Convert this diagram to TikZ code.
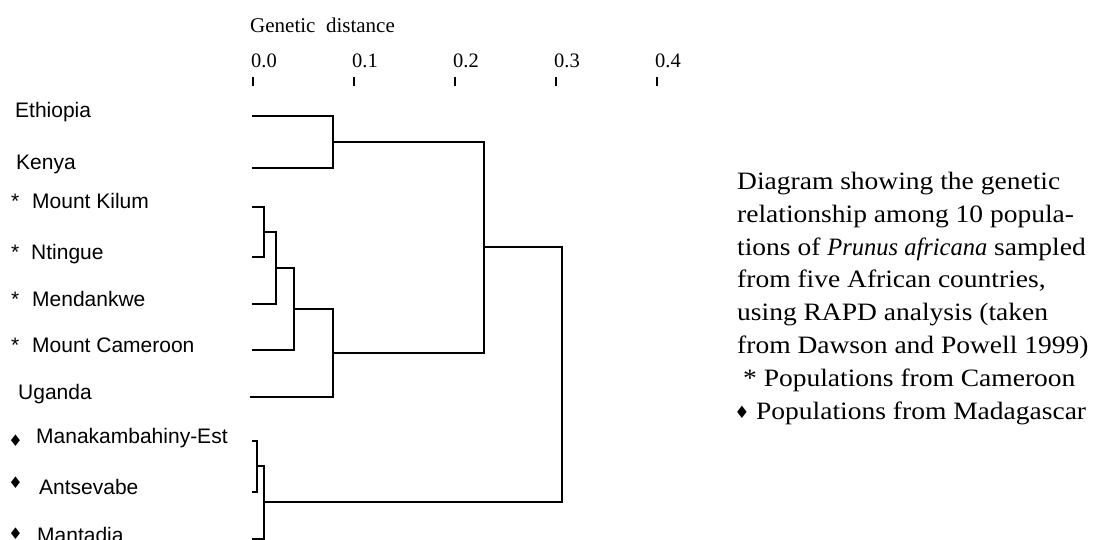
\documentclass[tikz,border=0pt]{standalone}
\usepackage{fontspec}
\setmainfont{Liberation Serif}
\newfontfamily\labfont{Liberation Sans}
\newfontfamily\capfont[FakeStretch=1.1]{Liberation Serif}
\newfontfamily\capitfont[FakeStretch=0.98]{Liberation Serif}
\newfontfamily\dejafont{DejaVu Sans}
\begin{document}
\begin{tikzpicture}[x=1pt,y=-1pt,
  branch/.style={line width=2.6pt, line cap=rect},
  tickmark/.style={line width=1.9pt},
  leaflabel/.style={anchor=base west, inner sep=0pt, font=\labfont\fontsize{21}{24}\selectfont},
  axlabel/.style={anchor=base west, inner sep=0pt, font=\fontsize{20.5}{24}\selectfont},
  capline/.style={anchor=base west, inner sep=0pt, font=\capfont\fontsize{25}{30}\selectfont},
  leftdia/.style={anchor=center, inner sep=0pt, font=\dejafont\fontsize{16}{18}\selectfont}
]
\useasboundingbox (0,0) rectangle (1106,540);
\fill[white] (0,0) rectangle (1106,540);

% axis
\node[axlabel, font=\fontsize{21}{24}\selectfont] (title) at (250,33) {Genetic\ \ distance};
\foreach \i/\x/\t in {0/253/0.0,1/354/0.1,2/455/0.2,3/556/0.3,4/657/0.4}{
  \node[axlabel] (tl\i) at (\x-2,68) {\t};
  \coordinate (ta\i) at (\x,77);
  \coordinate (tb\i) at (\x,86);
  \draw[tickmark] (ta\i) -- (tb\i);
}

% leaves
\coordinate (lE)  at (253,116);
\coordinate (lK)  at (253,168);
\coordinate (lMK) at (253,207);
\coordinate (lNt) at (253,257);
\coordinate (lMe) at (253,304);
\coordinate (lMC) at (253,350);
\coordinate (lUg) at (251,397);
\coordinate (lMa) at (253,441);
\coordinate (lAn) at (253,492);
\coordinate (lMt) at (253,539);

% joins
\coordinate (jEK) at (333,142);
\coordinate (j1)  at (264,232);
\coordinate (j2)  at (276,268);
\coordinate (j3)  at (294,309);
\coordinate (j4)  at (333,353);
\coordinate (j5)  at (484,247);
\coordinate (j6)  at (257,466);
\coordinate (j7)  at (264,502);
\coordinate (j8)  at (562,375);

\draw[branch] (lE) -| (jEK) |- (lK);
\draw[branch] (lMK) -| (j1) |- (lNt);
\draw[branch] (j1) -| (j2) |- (lMe);
\draw[branch] (j2) -| (j3) |- (lMC);
\draw[branch] (j3) -| (j4) |- (lUg);
\draw[branch] (jEK) -| (j5) |- (j4);
\draw[branch] (lMa) -| (j6) |- (lAn);
\draw[branch] (j6) -| (j7) |- (lMt);
\draw[branch] (j5) -| (j8) |- (j7);

% labels
\node[leaflabel] (nE) at (15,118) {Ethiopia};
\node[leaflabel] (nK) at (16,170) {Kenya};
\node[leaflabel] (sMK) at (11,209) {*};
\node[leaflabel] (nMK) at (32,209) {Mount Kilum};
\node[leaflabel] (sNt) at (11,259) {*};
\node[leaflabel] (nNt) at (31,259) {Ntingue};
\node[leaflabel] (sMe) at (11,306) {*};
\node[leaflabel] (nMe) at (32,306) {Mendankwe};
\node[leaflabel] (sMC) at (11,352) {*};
\node[leaflabel] (nMC) at (32,352) {Mount Cameroon};
\node[leaflabel] (nUg) at (18,399) {Uganda};
\node[leftdia] (dMa) at (15.5,441) {♦};
\node[leaflabel] (nMa) at (36,443) {Manakambahiny-Est};
\node[leftdia] (dAn) at (15.5,483) {♦};
\node[leaflabel] (nAn) at (39,494) {Antsevabe};
\node[leftdia] (dMt) at (15.5,534) {♦};
\node[leaflabel] (nMt) at (37,542) {Mantadia};

% caption
\node[capline] (c1) at (737,189.5) {Diagram showing the genetic};
\node[capline] (c2) at (737,222.3) {relationship among 10 popula-};
\node[capline] (c3) at (737,255.1) {tions of {\capitfont\itshape Prunus africana} sampled};
\node[capline] (c4) at (737,287.9) {from five African countries,};
\node[capline] (c5) at (737,320.7) {using RAPD analysis (taken};
\node[capline] (c6) at (737,353.5) {from Dawson and Powell 1999)};
\node[capline] (c7) at (743,386.3) {*\ Populations from Cameroon};
\node[anchor=center, inner sep=0pt, font=\dejafont\fontsize{17}{18}\selectfont] (c8d) at (742,412) {♦};
\node[capline] (c8) at (756,419.1) {Populations from Madagascar};
\end{tikzpicture}
\end{document}
